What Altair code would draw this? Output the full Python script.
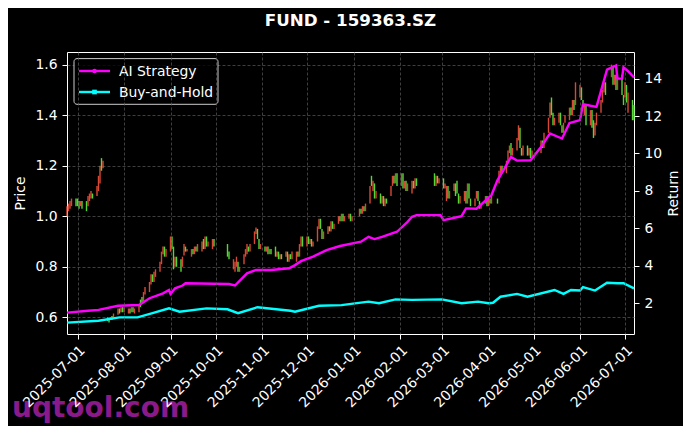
import altair as alt
import pandas as pd

TITLE = "FUND - 159363.SZ"

# ---------------- candle data: (open, close) per trading day, grouped by month ----------------
holidays = ["2025-10-01", "2025-10-02", "2025-10-03", "2025-10-06", "2025-10-07", "2025-10-08",
            "2026-01-01", "2026-01-02", "2026-02-13", "2026-02-16", "2026-02-17", "2026-02-18",
            "2026-02-19", "2026-02-20", "2026-02-23", "2026-04-06", "2026-05-01", "2026-05-04",
            "2026-05-05", "2026-06-19"]

jun25 = [(1.00, 1.04), (1.02, 1.05), (1.03, 1.06), (1.04, 1.07), (1.07, 1.04)]
jul25 = [(1.07, 1.04), (1.06, 1.03), (1.04, 1.06), (1.06, 1.03),
         (1.06, 1.02), (1.04, 1.08), (1.06, 1.09), (1.07, 1.10), (1.09, 1.07),
         (1.08, 1.12), (1.10, 1.16), (1.13, 1.20), (1.23, 1.18), (1.19, 1.22),
         (0.60, 0.585), (0.595, 0.58), (0.60, 0.59), (0.605, 0.59), (0.60, 0.615),
         (0.61, 0.635), (0.635, 0.615), (0.62, 0.64), (0.64, 0.62)]
aug25 = [(0.62, 0.64),
         (0.615, 0.635), (0.635, 0.615), (0.62, 0.64), (0.64, 0.62), (0.615, 0.635),
         (0.62, 0.65), (0.67, 0.64), (0.68, 0.66), (0.66, 0.70), (0.69, 0.72),
         (0.70, 0.74), (0.73, 0.77), (0.77, 0.74), (0.74, 0.78), (0.76, 0.79),
         (0.78, 0.82), (0.81, 0.86), (0.85, 0.88), (0.88, 0.84), (0.84, 0.87)]
sep25 = [(0.86, 0.92), (0.92, 0.87), (0.88, 0.79), (0.80, 0.84), (0.84, 0.80),
         (0.83, 0.78), (0.80, 0.84), (0.845, 0.89), (0.88, 0.86), (0.86, 0.87),
         (0.84, 0.87), (0.87, 0.85), (0.85, 0.88), (0.88, 0.86), (0.86, 0.89),
         (0.86, 0.90), (0.91, 0.87), (0.87, 0.92), (0.92, 0.88), (0.88, 0.90),
         (0.87, 0.91), (0.91, 0.88)]
oct25 = [(0.89, 0.84), (0.86, 0.83),
         (0.79, 0.83), (0.78, 0.82), (0.80, 0.84), (0.82, 0.78), (0.78, 0.80),
         (0.81, 0.85), (0.84, 0.87), (0.85, 0.89), (0.88, 0.86), (0.86, 0.89),
         (0.89, 0.94), (0.93, 0.955), (0.95, 0.91), (0.91, 0.87), (0.87, 0.89)]
nov25 = [(0.88, 0.86), (0.86, 0.88), (0.88, 0.85), (0.85, 0.87), (0.87, 0.85),
         (0.88, 0.84), (0.84, 0.86), (0.86, 0.83), (0.83, 0.85), (0.85, 0.83),
         (0.84, 0.86), (0.86, 0.82), (0.82, 0.85), (0.85, 0.83), (0.83, 0.86),
         (0.82, 0.86), (0.86, 0.84), (0.84, 0.89), (0.88, 0.92), (0.92, 0.88)]
dec25 = [(0.88, 0.92), (0.92, 0.89), (0.89, 0.91), (0.91, 0.88), (0.88, 0.90),
         (0.90, 0.96), (0.95, 0.99), (0.99, 0.95), (0.95, 0.91), (0.91, 0.94),
         (0.93, 0.96), (0.96, 0.94), (0.94, 0.98), (0.98, 0.95), (0.95, 0.97),
         (0.97, 1.00), (1.00, 0.98), (0.98, 1.01), (1.01, 0.98), (0.98, 1.00),
         (0.99, 1.01), (1.01, 0.98), (0.98, 1.00)]
jan26 = [(1.00, 1.03), (1.03, 1.01), (1.01, 1.04), (1.04, 1.02), (1.02, 1.05),
         (1.05, 1.12), (1.16, 1.12), (1.10, 1.14), (1.13, 1.07), (1.07, 1.10),
         (1.09, 1.05), (1.05, 1.08), (1.08, 1.04), (1.04, 1.07), (1.07, 1.05),
         (1.08, 1.12), (1.12, 1.16), (1.16, 1.13), (1.13, 1.17), (1.17, 1.12)]
feb26 = [(1.12, 1.17), (1.17, 1.11), (1.11, 1.14), (1.14, 1.10), (1.10, 1.13),
         (1.09, 1.14), (1.14, 1.11), (1.11, 1.15), (1.15, 1.12),
         (1.17, 1.12), (1.12, 1.16), (1.16, 1.13), (1.13, 1.15)]
mar26 = [(1.15, 1.11), (1.11, 1.13), (1.06, 1.12), (1.12, 1.07), (1.07, 1.10),
         (1.10, 1.13), (1.13, 1.08), (1.14, 1.09), (1.09, 1.05), (1.05, 1.08),
         (1.06, 1.10), (1.10, 1.05), (1.05, 1.13), (1.13, 1.07), (1.07, 1.04),
         (1.04, 1.07), (1.07, 1.10), (1.10, 1.06), (1.06, 1.03), (1.03, 1.05),
         (1.05, 1.08), (1.08, 1.04)]
apr26 = [(1.04, 1.07), (1.07, 1.05), (1.05, 1.08),
         (1.07, 1.05), (1.13, 1.18), (1.16, 1.20), (1.20, 1.17),
         (1.17, 1.22), (1.21, 1.26), (1.25, 1.28), (1.29, 1.24), (1.24, 1.27),
         (1.26, 1.31), (1.30, 1.36), (1.35, 1.27), (1.27, 1.24), (1.24, 1.28),
         (1.28, 1.24), (1.24, 1.27), (1.27, 1.23), (1.23, 1.26)]
may26 = [(1.25, 1.30), (1.30, 1.27), (1.27, 1.33),
         (1.33, 1.39), (1.39, 1.45), (1.47, 1.40), (1.41, 1.36), (1.36, 1.39),
         (1.37, 1.41), (1.41, 1.36), (1.36, 1.33), (1.33, 1.37), (1.37, 1.40),
         (1.38, 1.43), (1.43, 1.40), (1.40, 1.46), (1.46, 1.42), (1.44, 1.53)]
jun26 = [(1.47, 1.52), (1.51, 1.46), (1.46, 1.43), (1.40, 1.44), (1.44, 1.36),
         (1.36, 1.42), (1.42, 1.35), (1.38, 1.31), (1.32, 1.37), (1.36, 1.41),
         (1.41, 1.46), (1.45, 1.50), (1.49, 1.53), (1.53, 1.48),
         (1.55, 1.60), (1.59, 1.52), (1.52, 1.56), (1.56, 1.50), (1.50, 1.55),
         (1.56, 1.48), (1.48, 1.44)]
jul26 = [(1.47, 1.53), (1.52, 1.45), (1.41, 1.49), (1.46, 1.38), (1.44, 1.38)]

month_spans = [("2025-06-24", "2025-06-30", jun25), ("2025-07-01", "2025-07-31", jul25),
               ("2025-08-01", "2025-08-31", aug25), ("2025-09-01", "2025-09-30", sep25),
               ("2025-10-01", "2025-10-31", oct25), ("2025-11-01", "2025-11-30", nov25),
               ("2025-12-01", "2025-12-31", dec25), ("2026-01-01", "2026-01-31", jan26),
               ("2026-02-01", "2026-02-28", feb26), ("2026-03-01", "2026-03-31", mar26),
               ("2026-04-01", "2026-04-30", apr26), ("2026-05-01", "2026-05-31", may26),
               ("2026-06-01", "2026-06-30", jun26), ("2026-07-01", "2026-07-07", jul26)]

# ---------------- strategy lines ----------------
ai_dates = ["2025-06-24", "2025-07-08", "2025-07-15", "2025-07-28", "2025-08-11", "2025-08-18",
            "2025-08-27", "2025-08-31", "2025-09-01", "2025-09-04", "2025-09-09", "2025-09-11",
            "2025-10-10", "2025-10-14", "2025-10-22", "2025-10-28", "2025-11-07", "2025-11-19",
            "2025-11-23", "2025-11-27", "2025-12-05", "2025-12-14", "2025-12-23", "2026-01-06",
            "2026-01-11", "2026-01-15", "2026-01-20", "2026-01-30", "2026-02-06", "2026-02-09",
            "2026-02-12", "2026-02-28", "2026-03-02", "2026-03-14", "2026-03-17", "2026-03-24",
            "2026-03-29", "2026-04-03", "2026-04-07", "2026-04-11", "2026-04-16", "2026-04-20",
            "2026-04-29", "2026-05-06", "2026-05-12", "2026-05-20", "2026-05-25", "2026-06-01",
            "2026-06-03", "2026-06-12", "2026-06-19", "2026-06-25", "2026-06-26", "2026-06-29",
            "2026-06-30", "2026-07-03", "2026-07-07"]
ai_vals = [1.50, 1.60, 1.65, 1.87, 1.91, 2.27,
           2.53, 2.71, 2.50, 2.80, 2.95, 3.07,
           3.03, 2.95, 3.60, 3.78, 3.78, 3.87,
           4.04, 4.25, 4.49, 4.84, 5.06, 5.29,
           5.55, 5.43, 5.55, 5.82, 6.35, 6.62,
           6.71, 6.71, 6.44, 6.65, 7.07, 7.05,
           7.42, 7.78, 8.58, 9.11, 9.82, 9.62,
           9.64, 10.35, 11.07, 10.80, 11.63, 11.78,
           12.63, 12.49, 14.48, 14.70, 14.00, 14.00,
           14.60, 14.40, 14.06]

bh_dates = ["2025-06-24", "2025-07-15", "2025-07-29", "2025-08-10", "2025-08-20", "2025-08-31",
            "2025-09-07", "2025-09-25", "2025-10-09", "2025-10-16", "2025-10-29", "2025-11-20",
            "2025-11-23", "2025-12-09", "2025-12-24", "2026-01-11", "2026-01-18", "2026-01-29",
            "2026-02-09", "2026-03-01", "2026-03-14", "2026-03-25", "2026-04-01", "2026-04-04",
            "2026-04-09", "2026-04-20", "2026-04-27", "2026-05-15", "2026-05-21", "2026-05-26",
            "2026-06-01", "2026-06-03", "2026-06-11", "2026-06-19", "2026-06-26", "2026-06-30",
            "2026-07-07"]
bh_vals = [0.97, 1.07, 1.25, 1.25, 1.47, 1.73,
           1.55, 1.73, 1.68, 1.47, 1.79, 1.60,
           1.55, 1.87, 1.90, 2.09, 2.00, 2.21,
           2.18, 2.21, 2.00, 2.09, 2.00, 2.03,
           2.35, 2.50, 2.35, 2.71, 2.50, 2.71,
           2.68, 2.86, 2.68, 3.10, 3.07, 3.07,
           2.80]

price_ticks = [0.6, 0.8, 1.0, 1.2, 1.4, 1.6]
return_ticks = [2, 4, 6, 8, 10, 12, 14]
month_ticks = [(2025, m) for m in range(7, 13)] + [(2026, m) for m in range(1, 8)]

# ---------------- build tables ----------------
hol = set(holidays)
rows = []
for start, end, vals in month_spans:
    days = [d.strftime("%Y-%m-%d") for d in pd.bdate_range(start, end)]
    days = [d for d in days if d not in hol]
    for d, (o, c) in zip(days, vals):
        rows.append({"date": d, "open": o, "close": c, "dir": "up" if c >= o else "down"})
cdf = pd.DataFrame(rows)

ldf = pd.concat([
    pd.DataFrame({"date": ai_dates, "value": ai_vals, "series": "AI Strategy"}),
    pd.DataFrame({"date": bh_dates, "value": bh_vals, "series": "Buy-and-Hold"}),
])

MAGENTA = "#ff00ff"
CYAN = "#00ffff"
RED = "#f0503c"
GREEN = "#5ef03c"
FONT = "DejaVu Sans"

x_scale = alt.Scale(type="utc", nice=False,
                    domain=[alt.DateTime(year=2025, month=6, date=24, utc=True),
                            alt.DateTime(year=2026, month=7, date=7, utc=True)])
x_axis = alt.Axis(values=[alt.DateTime(year=y, month=m, date=1, utc=True) for y, m in month_ticks],
                  format="%Y-%m-%d", labelAngle=-45, labelAlign="right", labelBaseline="top",
                  labelOverlap=False, labelFlush=False, grid=True, title=None, labelPadding=4,
                  zindex=1)

candles = alt.Chart(cdf).mark_rule(strokeWidth=1.4, opacity=0.9).encode(
    x=alt.X("date:T", scale=x_scale, axis=x_axis),
    y=alt.Y("open:Q", scale=alt.Scale(domain=[0.534, 1.65], nice=False, zero=False),
            axis=alt.Axis(orient="left", values=price_ticks, format=".1f", title="Price",
                          grid=True, titlePadding=7)),
    y2="close:Q",
    color=alt.Color("dir:N", scale=alt.Scale(domain=["up", "down"], range=[RED, GREEN]), legend=None),
)

lines = alt.Chart(ldf).mark_line(strokeWidth=2.4).encode(
    x=alt.X("date:T"),
    y=alt.Y("value:Q", scale=alt.Scale(domain=[0.36, 15.42], nice=False, zero=False),
            axis=alt.Axis(orient="right", values=return_ticks, format="d", title="Return",
                          grid=False, titleAngle=270, titlePadding=19)),
    color=alt.Color("series:N", scale=alt.Scale(domain=["AI Strategy", "Buy-and-Hold"],
                                                range=[MAGENTA, CYAN]), legend=None),
)

one = pd.DataFrame({"k": [0]})
leg_box = alt.Chart(one).mark_rect(fill="black", fillOpacity=0.8, stroke="#cccccc",
                                   strokeWidth=1, cornerRadius=3).encode(
    x=alt.value(7), x2=alt.value(151), y=alt.value(6.6), y2=alt.value(52.3))
leg_l1 = alt.Chart(one).mark_rule(color=MAGENTA, strokeWidth=2.4).encode(
    x=alt.value(12), x2=alt.value(43), y=alt.value(19))
leg_l2 = alt.Chart(one).mark_rule(color=CYAN, strokeWidth=2.4).encode(
    x=alt.value(12), x2=alt.value(43), y=alt.value(40))
leg_p1 = alt.Chart(one).mark_point(shape="circle", filled=True, size=22, color=MAGENTA, opacity=1).encode(
    x=alt.value(27.5), y=alt.value(19))
leg_p2 = alt.Chart(one).mark_point(shape="square", filled=True, size=22, color=CYAN, opacity=1).encode(
    x=alt.value(27.5), y=alt.value(40))
leg_t1 = alt.Chart(one).mark_text(align="left", baseline="alphabetic", fontSize=13.9, color="white",
                                  font=FONT).encode(x=alt.value(52), y=alt.value(24),
                                                    text=alt.value("AI Strategy"))
leg_t2 = alt.Chart(one).mark_text(align="left", baseline="alphabetic", fontSize=13.9, color="white",
                                  font=FONT).encode(x=alt.value(52), y=alt.value(44.5),
                                                    text=alt.value("Buy-and-Hold"))
watermark = alt.Chart(one).mark_text(align="left", baseline="alphabetic", fontSize=28,
                                     fontWeight="bold", color="#8a1a8a", font=FONT).encode(
    x=alt.value(-55), y=alt.value(365), text=alt.value("uqtool.com"))

chart = alt.layer(
    candles, lines, leg_box, leg_l1, leg_l2, leg_p1, leg_p2, leg_t1, leg_t2, watermark
).resolve_scale(
    y="independent", color="independent"
).properties(
    width=567, height=282,
    background="black",
    padding={"left": 59, "top": 44, "right": 49, "bottom": 92},
    autosize=alt.AutoSizeParams(type="none"),
    title=alt.Title(TITLE, fontSize=16.7, fontWeight="bold", color="white", font=FONT,
                    anchor="middle", offset=22),
).configure_view(
    stroke="white", strokeWidth=1, fill="black"
).configure_axis(
    domain=False, labelColor="white", tickColor="white", titleColor="white",
    labelFont=FONT, titleFont=FONT, labelFontSize=13.9, titleFontSize=13.9,
    titleFontWeight="normal", tickSize=5, labelPadding=5,
    gridColor="#5a5a5a", gridDash=[3, 2], gridWidth=0.7,
)

chart.save("out.html", embed_options={"renderer": "svg", "actions": False})
